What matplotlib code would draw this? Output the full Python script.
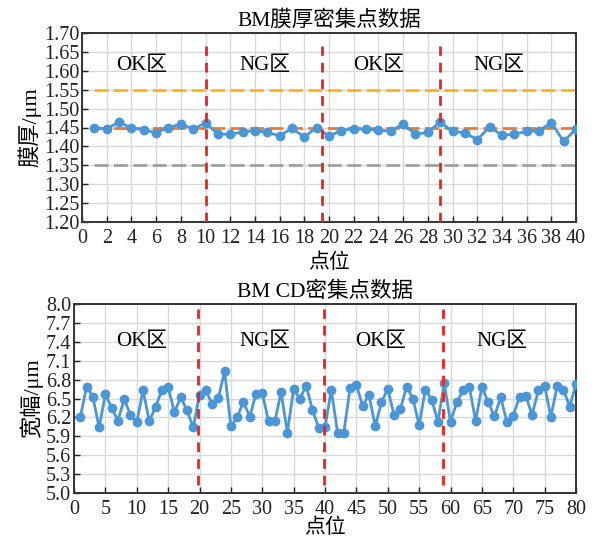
import numpy as np
import matplotlib
matplotlib.use('Agg')
import matplotlib.pyplot as plt

plt.rcParams['font.family'] = ['Liberation Serif', 'Noto Sans CJK SC']
plt.rcParams['axes.unicode_minus'] = False

# ---- data: BM film thickness (40 points) ----
thk_x = list(range(1, 41))
thk_y = [1.450, 1.446, 1.465, 1.448, 1.444, 1.436, 1.450, 1.459, 1.446, 1.462,
         1.433, 1.432, 1.438, 1.442, 1.437, 1.428, 1.448, 1.425, 1.450, 1.427,
         1.442, 1.447, 1.445, 1.443, 1.440, 1.460, 1.432, 1.437, 1.465, 1.440,
         1.436, 1.418, 1.451, 1.430, 1.432, 1.440, 1.441, 1.463, 1.413, 1.446]
thk_limits = [1.55, 1.45, 1.35]
thk_limit_colors = ['#FFB21A', '#F07A2A', '#A0A0A0']
thk_split = [10, 19.45, 29.0]
thk_zone_x = [4.8, 14.8, 24.0, 33.8]

# ---- data: BM CD width (80 points) ----
cd_x = list(range(1, 81))
cd_y = [6.20, 6.69, 6.53, 6.04, 6.57, 6.35, 6.15, 6.49, 6.24, 6.12,
        6.63, 6.14, 6.37, 6.63, 6.68, 6.28, 6.52, 6.31, 6.04, 6.56,
        6.63, 6.41, 6.51, 6.93, 6.06, 6.20, 6.45, 6.21, 6.57, 6.59,
        6.14, 6.14, 6.60, 5.96, 6.65, 6.50, 6.70, 6.32, 6.03, 6.04,
        6.64, 5.96, 5.96, 6.67, 6.72, 6.38, 6.56, 6.06, 6.44, 6.65,
        6.24, 6.33, 6.69, 6.50, 6.08, 6.64, 6.48, 6.13, 6.74, 6.13,
        6.44, 6.63, 6.69, 6.14, 6.69, 6.44, 6.22, 6.52, 6.12, 6.23,
        6.53, 6.54, 6.24, 6.63, 6.70, 6.21, 6.70, 6.64, 6.37, 6.73]
cd_split = [19.8, 39.8, 58.8]
cd_zone_x = [10.8, 30.4, 48.8, 68.2]

zone_labels = ['OK区', 'NG区', 'OK区', 'NG区']

blue = '#4A96D6'
red = '#F02020'

fig = plt.figure(figsize=(5.98, 5.42), dpi=100)
ax1 = fig.add_axes([82/598, 320/542, 494/598, 189/542])
ax2 = fig.add_axes([74/598, 49/542, 502/598, 189/542])


def style(ax):
    ax.grid(True, color='#D8D8D8', linewidth=1.0, zorder=0)
    ax.set_axisbelow(True)
    for s in ax.spines.values():
        s.set_color('#333333')
        s.set_linewidth(1.4)
    ax.tick_params(direction='in', length=4, width=1.0, labelsize=14.5,
                   colors='#222222', pad=2)
    ax.tick_params(axis='x', pad=5)


# top chart
for yv, c in zip(thk_limits, thk_limit_colors):
    ax1.plot([1, 40], [yv, yv], '--', color=c, lw=2, dashes=(5, 2), zorder=2)
ax1.plot(thk_x, thk_y, '-o', color=blue, lw=2, ms=6, zorder=3)
ax1.vlines(thk_split, 1.20, 1.666, colors=red, linestyles=(0, (3.5, 2.5)),
           lw=2, zorder=4)
for xx, t in zip(thk_zone_x, zone_labels):
    ax1.text(xx, 1.615, t, ha='center', va='center', fontsize=15)
ax1.set_xlim(0, 40)
ax1.set_ylim(1.20, 1.70)
ax1.set_xticks(np.arange(0, 41, 2))
ax1.set_yticks(np.arange(1.20, 1.701, 0.05))
ax1.set_yticklabels(['%.2f' % v for v in np.arange(1.20, 1.701, 0.05)])
ax1.set_xlabel('点位', fontsize=15, labelpad=4)
ax1.set_ylabel('膜厚/μm', fontsize=16, labelpad=2)
ax1.set_title('BM膜厚密集点数据', fontsize=15.5, pad=5)
style(ax1)

# bottom chart
ax2.plot(cd_x, cd_y, '-o', color=blue, lw=2, ms=6, zorder=3)
ax2.vlines(cd_split, 5.13, 7.92, colors=red, linestyles=(0, (3.5, 2.5)),
           lw=2, zorder=4)
for xx, t in zip(cd_zone_x, zone_labels):
    ax2.text(xx, 7.40, t, ha='center', va='center', fontsize=15)
ax2.set_xlim(0, 80)
ax2.set_ylim(5.0, 8.0)
ax2.set_xticks(np.arange(0, 81, 5))
ax2.set_yticks(np.arange(5.0, 8.01, 0.3))
ax2.set_yticklabels(['%.1f' % v for v in np.arange(5.0, 8.01, 0.3)])
ax2.set_xlabel('点位', fontsize=15, labelpad=0)
ax2.set_ylabel('宽幅/μm', fontsize=16, labelpad=2)
ax2.set_title('BM CD密集点数据', fontsize=15.5, pad=5)
style(ax2)

fig.savefig('out.png', dpi=100)
